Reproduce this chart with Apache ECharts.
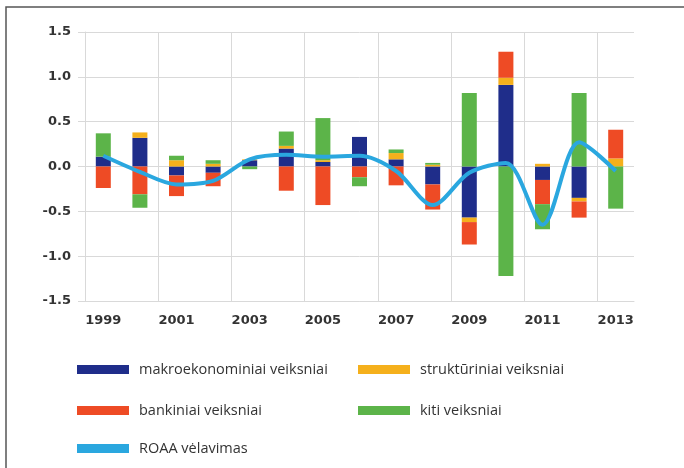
<!DOCTYPE html>
<html>
<head>
<meta charset="utf-8">
<script src="https://cdn.jsdelivr.net/npm/echarts@6/dist/echarts.min.js"></script>
<style>
  html, body { margin: 0; padding: 0; background: #fff; }
  #chart { width: 684px; height: 468px; }
</style>
</head>
<body>
<div id="chart"></div>
<script>
// metai
const years = ['1999', '2000', '2001', '2002', '2003', '2004', '2005', '2006', '2007', '2008', '2009', '2010', '2011', '2012', '2013'];

// veiksniai (p. p.)
const makro = [0.11, 0.32, -0.10, -0.07, 0.07, 0.20, 0.05, 0.33, 0.08, -0.20, -0.57, 0.91, -0.15, -0.35, 0];
const strukt = [0, 0.06, 0.07, 0.03, 0.01, 0.03, 0.02, 0, 0.07, 0.02, -0.05, 0.08, 0.03, -0.04, 0.09];
const bank = [-0.24, -0.31, -0.23, -0.15, 0, -0.27, -0.43, -0.12, -0.21, -0.28, -0.25, 0.29, -0.27, -0.18, 0.32];
const kiti = [0.26, -0.15, 0.05, 0.04, -0.03, 0.16, 0.47, -0.10, 0.04, 0.02, 0.82, -1.22, -0.28, 0.82, -0.47];
const roaa = [0.12, -0.06, -0.20, -0.16, 0.08, 0.13, 0.11, 0.12, -0.05, -0.43, -0.07, 0.04, -0.65, 0.27, -0.05];

const names = ['makroekonominiai veiksniai', 'struktūriniai veiksniai', 'bankiniai veiksniai', 'kiti veiksniai', 'ROAA vėlavimas'];
const colors = ['#1f2d8a', '#f5b01c', '#ee4b25', '#5cb449', '#2aa7df'];

const chart = echarts.init(document.getElementById('chart'));

const gridCol = '#d9d9d9';
const axisFont = 'DejaVu Sans, sans-serif';
const legendFont = 'Open Sans, sans-serif';

// vertikalios linijos kas antrus metus; paskutinė (dešinysis kraštas) nematoma
const vLineCount = Math.floor(years.length / 2) + 2;
const vLineColors = [];
for (let i = 0; i < vLineCount; i++) vLineColors.push(i === vLineCount - 1 ? 'rgba(0,0,0,0)' : gridCol);

// legenda – kiekvienas įrašas atskirai, kad būtų kaip originale
const legendPos = [[77, 362], [358, 362], [77, 403], [358, 403], [77, 441]];
const legends = names.map((n, i) => ({
    data: [{ name: n, icon: 'rect', itemStyle: { color: colors[i] } }],
    left: legendPos[i][0], top: legendPos[i][1],
    padding: 0,
    itemWidth: 52, itemHeight: 9,
    textStyle: { color: '#333', fontSize: 14.5, fontFamily: legendFont, padding: [0, 0, 0, 5] }
}));

const barSeries = [makro, strukt, bank, kiti].map((d, i) => ({
    name: names[i],
    type: 'bar',
    stack: 'f',
    data: d,
    barWidth: 15,
    itemStyle: { color: colors[i] }
}));

chart.setOption({
    animation: false,
    graphic: [{
        type: 'rect',
        shape: { x: 6, y: 7, width: 720, height: 500 },
        style: { fill: 'none', stroke: '#555', lineWidth: 1.5 },
        z: 100
    }],
    grid: { left: 85, right: 50, top: 32, bottom: 167 },
    legend: legends,
    xAxis: {
        type: 'category',
        data: years,
        boundaryGap: true,
        axisLine: { onZero: false, lineStyle: { color: gridCol } },
        axisTick: { show: false },
        axisLabel: { interval: 1, color: '#333', fontSize: 13, fontWeight: 'bold', fontFamily: axisFont, margin: 13 },
        splitLine: { show: true, interval: 1, lineStyle: { color: vLineColors } }
    },
    yAxis: {
        type: 'value',
        min: -1.5, max: 1.5, interval: 0.5,
        axisLine: { show: true, lineStyle: { color: gridCol } },
        axisTick: { show: true, length: 7, lineStyle: { color: gridCol } },
        axisLabel: { color: '#333', fontSize: 13, fontWeight: 'bold', fontFamily: axisFont, margin: 14, formatter: v => v.toFixed(1) },
        splitLine: { lineStyle: { color: gridCol } }
    },
    series: barSeries.concat([{
        name: names[4],
        type: 'line',
        data: roaa,
        smooth: 0.3,
        showSymbol: false,
        z: 5,
        lineStyle: { color: colors[4], width: 4 },
        itemStyle: { color: colors[4] }
    }])
});
</script>
</body>
</html>
